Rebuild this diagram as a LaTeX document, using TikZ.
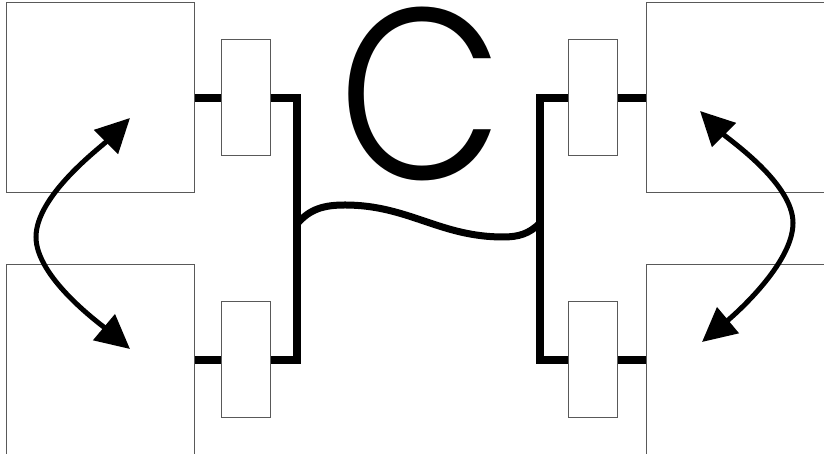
\documentclass[tikz,border=0pt]{standalone}
\usepackage{fontspec}
\newfontfamily\letterfont{Poppins Light}
\usetikzlibrary{arrows.meta}

\begin{document}
\begin{tikzpicture}[x=1pt,y=1pt]
	\tikzstyle{station} = [draw=black!65, line width=1pt, minimum width=188pt, minimum height=190pt, inner sep=0pt]
	\tikzstyle{port} = [draw=black!65, line width=1pt, minimum width=49pt, minimum height=116pt, inner sep=0pt]
	\tikzstyle{wire} = [line width=7.5pt]
	\tikzstyle{link} = [line width=5pt, {Triangle[length=34pt,width=33pt]}-{Triangle[length=34pt,width=33pt]}]

	\useasboundingbox (0,0) rectangle (824,454);
	\clip (0,0) rectangle (824,454);

	% Define nodes
	\node[station] (S1) at (100,356) {};
	\node[station] (S2) at (100,94) {};
	\node[station] (S3) at (740,356) {};
	\node[station] (S4) at (740,94) {};
	\node[port] (P1) at (245.5,356) {};
	\node[port] (P2) at (245.5,94) {};
	\node[port] (P3) at (592.5,356) {};
	\node[port] (P4) at (592.5,94) {};
	\node[inner sep=0pt, xscale=0.88, font=\letterfont\fontsize{244}{244}\selectfont] (C) at (421,360) {C};

	% Draw wires
	\draw[wire] (S1.east) -- (P1.west);
	\draw[wire] (S2.east) -- (P2.west);
	\draw[wire] (S3.west) -- (P3.east);
	\draw[wire] (S4.west) -- (P4.east);
	\draw[wire] (P1.east) -- (297,356) coordinate (JL) |- (P2.east);
	\draw[wire] (P3.west) -- (540,356) coordinate (JR) |- (P4.west);

	% Wave between the brackets
	\coordinate (WL) at (297,230);
	\coordinate (WR) at (540,231);
	\draw[line width=7pt] (WL) to[out=50,in=180] (345,249) to[out=0,in=180] (503,217) to[out=0,in=225] (WR);

	% Double arrows
	\coordinate (A1) at (130,336);
	\coordinate (A2) at (36,217);
	\coordinate (A3) at (130,105);
	\coordinate (B1) at (700,343);
	\coordinate (B2) at (793,231);
	\coordinate (B3) at (702,112);
	\draw[link] (A1) to[out=225,in=90,looseness=0.7] (A2) to[out=-90,in=140,looseness=0.7] (A3);
	\draw[link] (B1) to[out=-45,in=90,looseness=0.7] (B2) to[out=-90,in=40,looseness=0.7] (B3);

\end{tikzpicture}
\end{document}
